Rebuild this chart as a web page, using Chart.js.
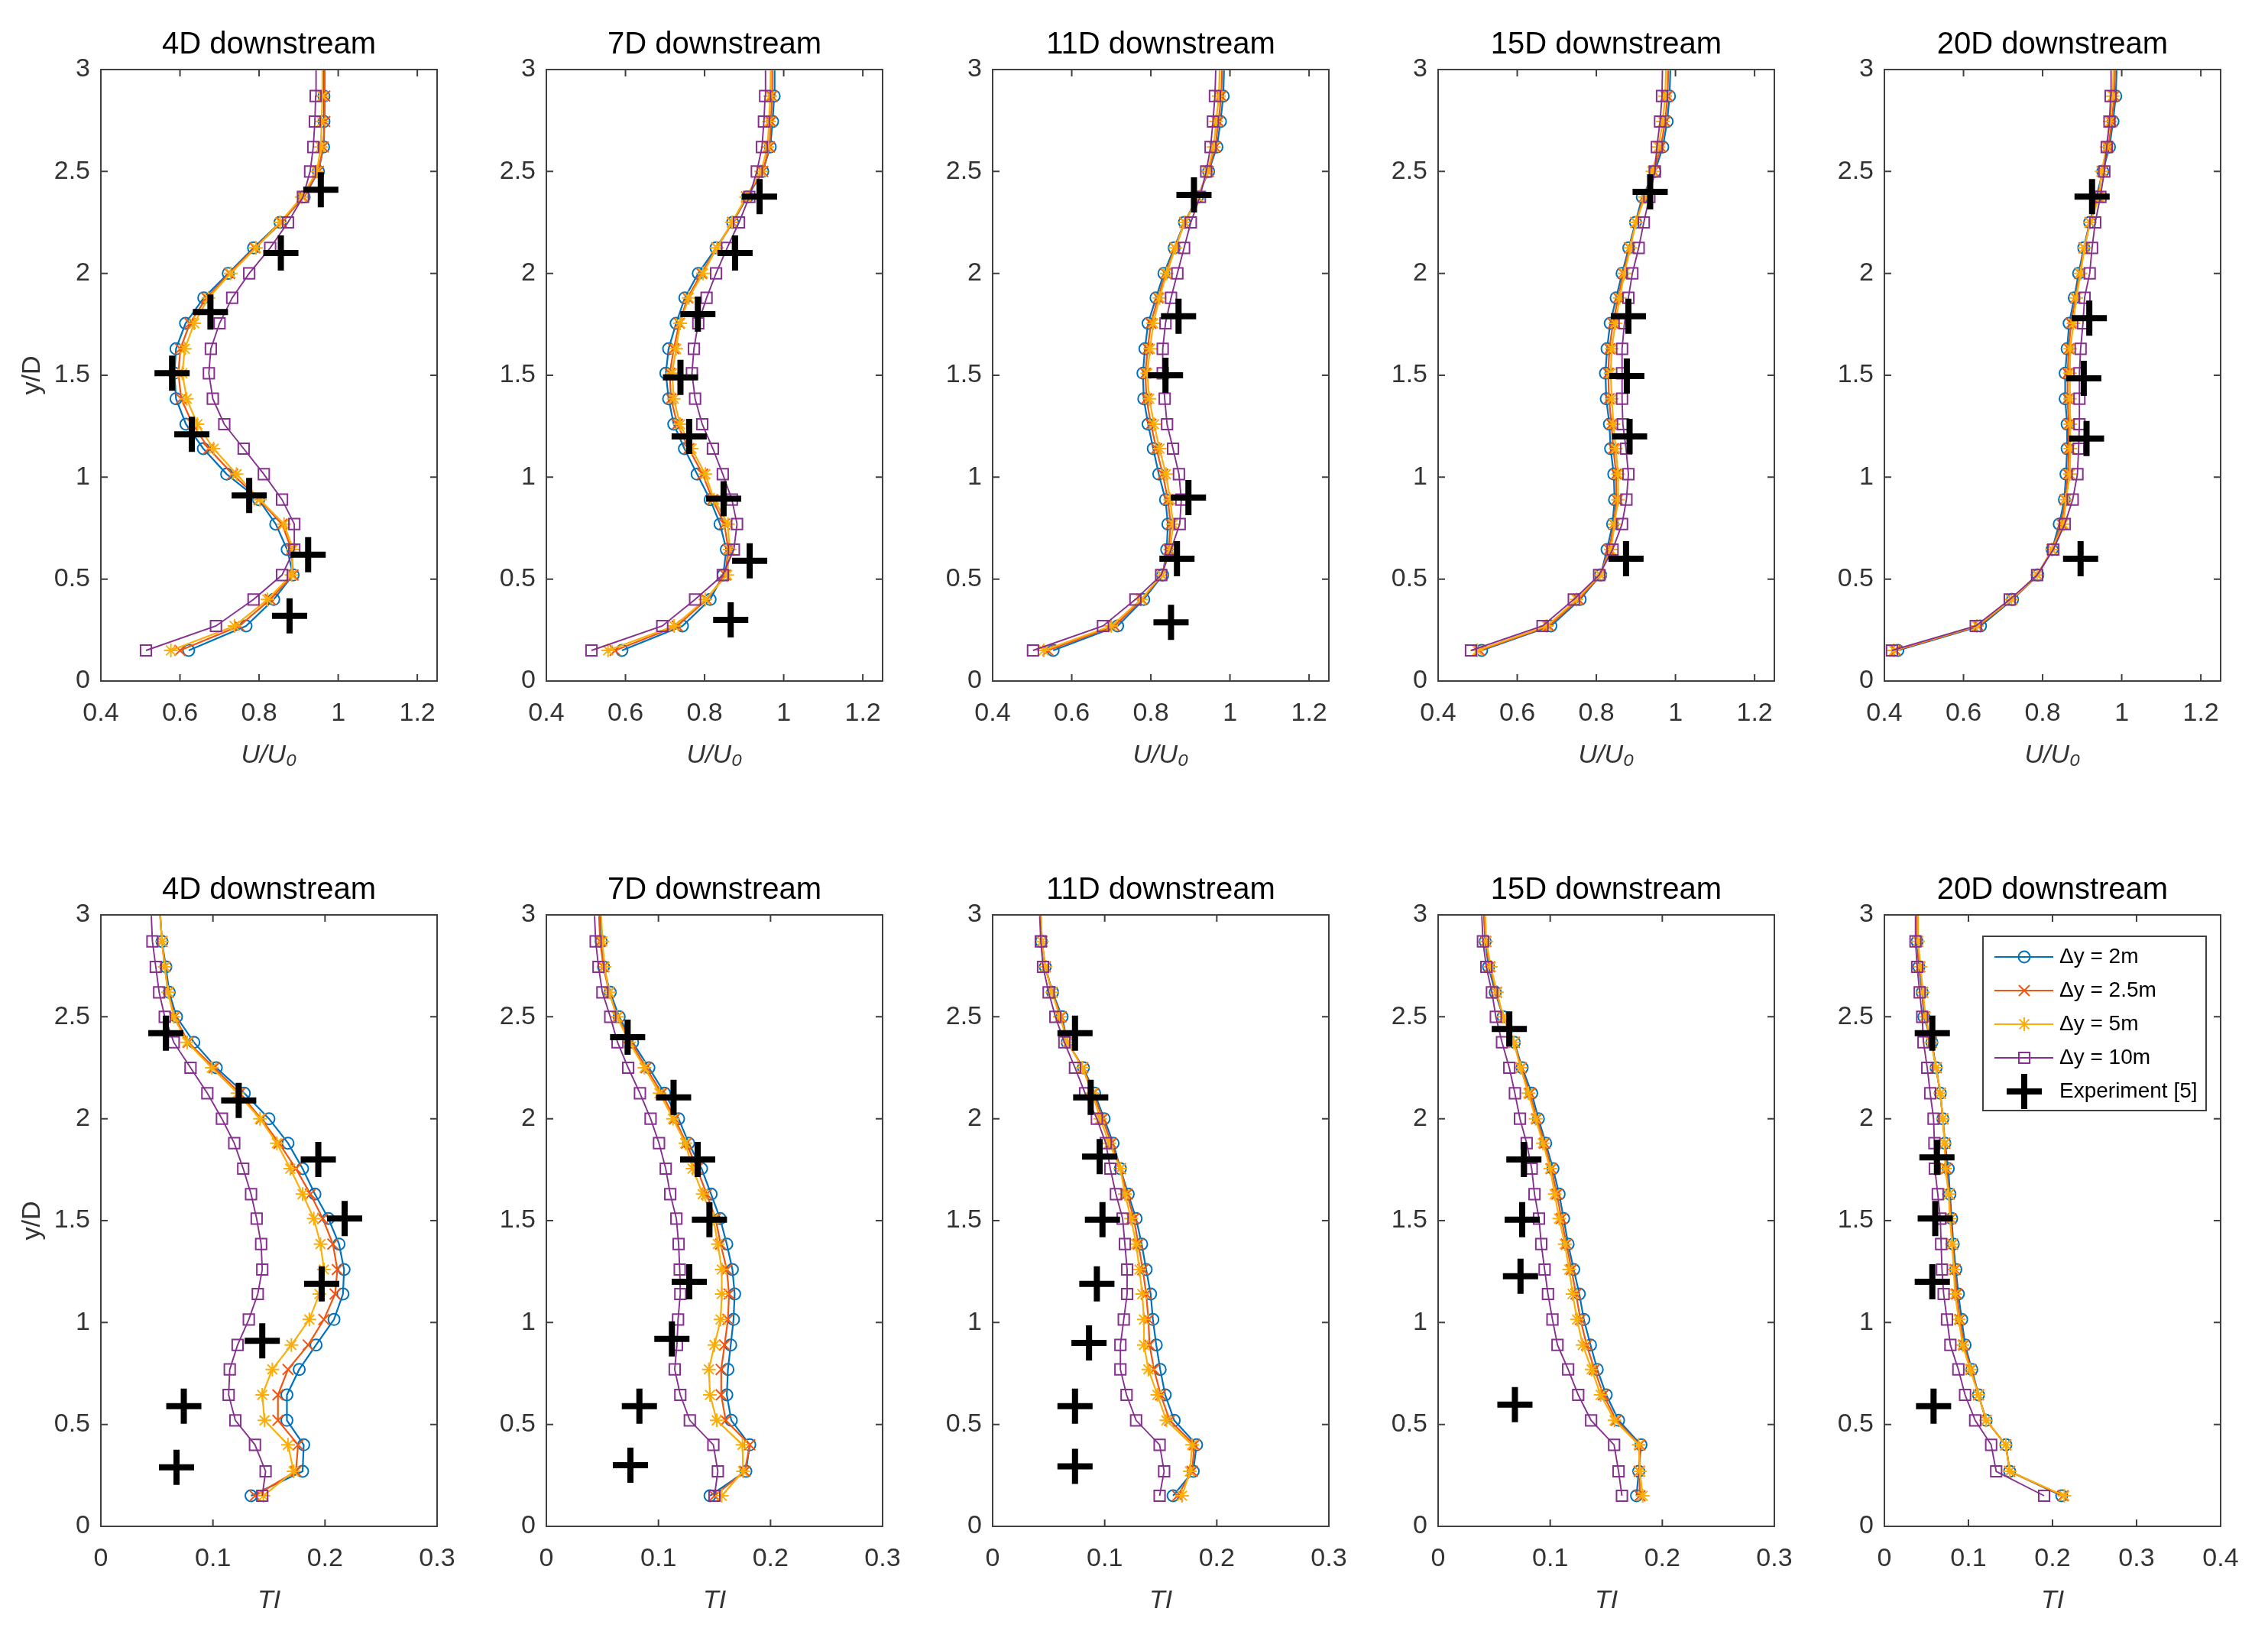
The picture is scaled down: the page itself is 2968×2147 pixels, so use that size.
<!DOCTYPE html>
<html><head><meta charset="utf-8">
<script src="https://cdn.jsdelivr.net/npm/chart.js@4.4.1/dist/chart.umd.min.js"></script>
<style>
html,body{margin:0;background:#fff;width:2968px;height:2147px;position:relative;overflow:hidden}
canvas{position:absolute}
</style></head><body>
<script>
// ---------- DATA ----------
const seriesNames = ['\u0394y = 2m','\u0394y = 2.5m','\u0394y = 5m','\u0394y = 10m','Experiment [5]'];
const panelTitles = ['4D downstream','7D downstream','11D downstream','15D downstream','20D downstream'];
const yTicks = [0,0.5,1,1.5,2,2.5,3];
const xTicksU = [0.4,0.6,0.8,1,1.2];
const xTicksTI = [0,0.1,0.2,0.3];
const xTicksTI20 = [0,0.1,0.2,0.3,0.4];
const yPos = [0.15,0.27,0.4,0.52,0.645,0.77,0.89,1.015,1.14,1.26,1.385,1.51,1.63,1.755,1.88,2.0,2.125,2.25,2.375,2.5,2.62,2.745,2.87,2.995];

// U/U0 profiles
const U4D_2m   = [0.622,0.767,0.837,0.886,0.871,0.842,0.799,0.718,0.659,0.615,0.590,0.586,0.590,0.614,0.660,0.722,0.786,0.853,0.914,0.950,0.963,0.964,0.964,0.964];
const U4D_25m  = [0.600,0.750,0.828,0.886,0.882,0.858,0.800,0.733,0.673,0.632,0.603,0.596,0.601,0.625,0.667,0.725,0.789,0.857,0.911,0.950,0.962,0.966,0.966,0.966];
const U4D_5m   = [0.577,0.738,0.821,0.882,0.886,0.863,0.802,0.743,0.685,0.644,0.617,0.606,0.612,0.636,0.672,0.728,0.792,0.853,0.908,0.946,0.956,0.958,0.960,0.960];
const U4D_10m  = [0.514,0.691,0.786,0.858,0.889,0.889,0.858,0.812,0.761,0.712,0.683,0.673,0.678,0.700,0.732,0.775,0.828,0.873,0.911,0.929,0.937,0.941,0.943,0.944];
const U4D_expX = [0.956,0.855,0.677,0.580,0.630,0.775,0.924,0.877];
const U4D_expY = [2.41,2.10,1.81,1.51,1.21,0.91,0.62,0.32];

const U7D_2m   = [0.591,0.744,0.814,0.847,0.855,0.839,0.814,0.781,0.749,0.722,0.709,0.702,0.709,0.728,0.750,0.784,0.829,0.871,0.908,0.947,0.966,0.972,0.976,0.977];
const U7D_25m  = [0.574,0.731,0.805,0.852,0.860,0.850,0.820,0.795,0.760,0.731,0.715,0.712,0.722,0.736,0.757,0.792,0.831,0.871,0.906,0.947,0.964,0.968,0.970,0.971];
const U7D_5m   = [0.556,0.723,0.802,0.857,0.863,0.859,0.824,0.802,0.767,0.738,0.722,0.718,0.728,0.738,0.760,0.796,0.831,0.869,0.905,0.943,0.959,0.963,0.966,0.967];
const U7D_10m  = [0.514,0.693,0.776,0.846,0.874,0.882,0.869,0.846,0.821,0.794,0.776,0.768,0.773,0.784,0.805,0.829,0.857,0.887,0.913,0.932,0.945,0.950,0.953,0.954];
const U7D_expX = [0.939,0.877,0.783,0.739,0.761,0.848,0.914,0.866];
const U7D_expY = [2.377,2.10,1.80,1.49,1.20,0.894,0.59,0.30];

const U11D_2m  = [0.553,0.716,0.782,0.830,0.840,0.843,0.837,0.820,0.806,0.793,0.782,0.780,0.785,0.793,0.813,0.833,0.859,0.885,0.918,0.946,0.967,0.976,0.983,0.985];
const U11D_25m = [0.540,0.708,0.778,0.828,0.845,0.850,0.843,0.830,0.814,0.800,0.789,0.786,0.792,0.800,0.818,0.837,0.861,0.886,0.919,0.945,0.963,0.971,0.978,0.980];
const U11D_5m  = [0.529,0.700,0.775,0.827,0.849,0.856,0.849,0.838,0.822,0.808,0.796,0.791,0.798,0.806,0.822,0.840,0.862,0.885,0.920,0.943,0.959,0.965,0.972,0.974];
const U11D_10m = [0.502,0.679,0.761,0.826,0.851,0.873,0.877,0.871,0.856,0.841,0.835,0.830,0.830,0.837,0.851,0.867,0.884,0.901,0.924,0.940,0.951,0.957,0.962,0.964];
const U11D_expX = [0.909,0.870,0.837,0.895,0.866,0.851];
const U11D_expY = [2.385,1.79,1.50,0.90,0.60,0.288];

const U15D_2m  = [0.510,0.685,0.759,0.811,0.827,0.841,0.846,0.844,0.836,0.833,0.825,0.823,0.827,0.835,0.850,0.865,0.882,0.899,0.916,0.948,0.968,0.979,0.985,0.987];
const U15D_25m = [0.505,0.680,0.755,0.810,0.832,0.844,0.851,0.850,0.843,0.838,0.832,0.830,0.833,0.842,0.855,0.868,0.884,0.900,0.920,0.945,0.963,0.974,0.980,0.982];
const U15D_5m  = [0.499,0.675,0.750,0.809,0.837,0.846,0.855,0.855,0.849,0.843,0.839,0.836,0.839,0.848,0.859,0.871,0.886,0.900,0.923,0.942,0.957,0.968,0.974,0.976];
const U15D_10m = [0.483,0.664,0.743,0.807,0.841,0.865,0.876,0.881,0.875,0.867,0.865,0.865,0.865,0.871,0.881,0.891,0.907,0.920,0.934,0.948,0.953,0.961,0.966,0.967];
const U15D_expX = [0.936,0.881,0.877,0.884,0.875];
const U15D_expY = [2.40,1.79,1.496,1.20,0.60];

const U20D_2m  = [0.434,0.643,0.724,0.788,0.824,0.842,0.855,0.859,0.862,0.862,0.857,0.857,0.862,0.867,0.880,0.891,0.904,0.919,0.936,0.952,0.969,0.978,0.985,0.987];
const U20D_25m = [0.429,0.638,0.722,0.787,0.824,0.848,0.857,0.864,0.866,0.866,0.863,0.863,0.866,0.872,0.883,0.894,0.905,0.920,0.940,0.951,0.966,0.975,0.981,0.983];
const U20D_5m  = [0.424,0.634,0.721,0.786,0.824,0.853,0.859,0.869,0.870,0.870,0.869,0.869,0.870,0.878,0.885,0.896,0.906,0.920,0.943,0.949,0.962,0.970,0.977,0.979];
const U20D_10m = [0.419,0.631,0.717,0.786,0.827,0.856,0.876,0.888,0.891,0.893,0.893,0.893,0.896,0.902,0.906,0.919,0.925,0.933,0.946,0.956,0.962,0.969,0.972,0.973];
const U20D_expX = [0.925,0.918,0.904,0.911,0.896];
const U20D_expY = [2.377,1.78,1.485,1.19,0.60];

// TI profiles
const TI4D_2m  = [0.134,0.180,0.181,0.166,0.166,0.177,0.192,0.208,0.216,0.217,0.2125,0.203,0.191,0.180,0.167,0.150,0.128,0.103,0.083,0.0675,0.061,0.058,0.0545,0.053];
const TI4D_25m = [0.1375,0.174,0.176,0.158,0.158,0.167,0.185,0.199,0.209,0.211,0.207,0.198,0.187,0.174,0.159,0.143,0.124,0.101,0.078,0.066,0.060,0.057,0.0545,0.053];
const TI4D_5m  = [0.145,0.172,0.167,0.146,0.144,0.153,0.170,0.186,0.195,0.199,0.196,0.190,0.180,0.169,0.157,0.142,0.122,0.099,0.077,0.065,0.060,0.057,0.0545,0.053];
const TI4D_10m = [0.144,0.147,0.1375,0.120,0.114,0.115,0.122,0.132,0.140,0.144,0.143,0.139,0.134,0.127,0.119,0.108,0.095,0.080,0.065,0.057,0.052,0.049,0.046,0.045];
const TI4D_expX = [0.058,0.123,0.194,0.2175,0.197,0.144,0.074,0.0675];
const TI4D_expY = [2.42,2.09,1.80,1.51,1.19,0.91,0.59,0.29];

const TI7D_2m  = [0.146,0.178,0.1815,0.165,0.161,0.162,0.1645,0.167,0.168,0.166,0.161,0.155,0.147,0.1385,0.127,0.118,0.1055,0.0915,0.077,0.065,0.057,0.051,0.049,0.048];
const TI7D_25m = [0.150,0.177,0.1815,0.160,0.156,0.156,0.159,0.162,0.163,0.161,0.1555,0.151,0.143,0.1345,0.125,0.1145,0.103,0.089,0.0755,0.0635,0.056,0.051,0.048,0.047];
const TI7D_5m  = [0.1565,0.1755,0.175,0.152,0.146,0.145,0.150,0.1555,0.1565,0.1565,0.153,0.149,0.1395,0.1305,0.124,0.113,0.101,0.0875,0.074,0.063,0.056,0.052,0.050,0.049];
const TI7D_10m = [0.150,0.153,0.149,0.128,0.1195,0.1145,0.1165,0.1175,0.1195,0.119,0.118,0.116,0.1105,0.1065,0.1005,0.093,0.0835,0.073,0.0635,0.057,0.050,0.0465,0.044,0.043];
const TI7D_expX = [0.0725,0.1135,0.135,0.1455,0.1275,0.112,0.083,0.075];
const TI7D_expY = [2.40,2.105,1.80,1.505,1.20,0.92,0.59,0.30];

const TI11D_2m  = [0.161,0.179,0.182,0.162,0.154,0.1495,0.146,0.143,0.141,0.137,0.133,0.128,0.121,0.114,0.1075,0.0995,0.091,0.081,0.0665,0.062,0.0535,0.047,0.0435,0.043];
const TI11D_25m = [0.165,0.178,0.180,0.158,0.150,0.144,0.140,0.139,0.137,0.134,0.130,0.126,0.120,0.114,0.106,0.098,0.090,0.0805,0.067,0.061,0.053,0.047,0.044,0.043];
const TI11D_5m  = [0.169,0.176,0.178,0.155,0.147,0.139,0.135,0.135,0.1335,0.131,0.128,0.1235,0.118,0.114,0.104,0.096,0.089,0.080,0.067,0.060,0.053,0.047,0.044,0.043];
const TI11D_10m = [0.149,0.153,0.149,0.128,0.1195,0.114,0.114,0.117,0.120,0.120,0.118,0.116,0.110,0.105,0.101,0.093,0.0825,0.0735,0.064,0.056,0.050,0.045,0.043,0.042];
const TI11D_expX = [0.0735,0.0875,0.0955,0.098,0.093,0.086,0.0735,0.0735];
const TI11D_expY = [2.42,2.105,1.814,1.505,1.19,0.90,0.59,0.294];

const TI15D_2m  = [0.177,0.179,0.181,0.161,0.150,0.142,0.136,0.130,0.126,0.121,0.116,0.112,0.108,0.1025,0.096,0.0895,0.0835,0.075,0.068,0.058,0.051,0.045,0.042,0.041];
const TI15D_25m = [0.180,0.1795,0.180,0.159,0.1475,0.1395,0.1325,0.127,0.123,0.119,0.1145,0.110,0.106,0.101,0.095,0.088,0.082,0.074,0.068,0.058,0.052,0.046,0.0425,0.041];
const TI15D_5m  = [0.1825,0.180,0.179,0.1575,0.145,0.137,0.129,0.124,0.120,0.117,0.113,0.108,0.104,0.100,0.0935,0.087,0.0805,0.0735,0.0675,0.058,0.0525,0.047,0.043,0.042];
const TI15D_10m = [0.164,0.161,0.157,0.1365,0.125,0.116,0.1065,0.102,0.098,0.095,0.092,0.090,0.086,0.0835,0.079,0.073,0.0685,0.0635,0.057,0.0515,0.048,0.043,0.040,0.039];
const TI15D_expX = [0.0635,0.0765,0.075,0.0735,0.0685];
const TI15D_expY = [2.44,1.80,1.505,1.227,0.597];

const TI20D_2m  = [0.211,0.149,0.1445,0.121,0.112,0.104,0.096,0.092,0.088,0.085,0.082,0.080,0.078,0.076,0.072,0.0695,0.0665,0.0615,0.0565,0.047,0.045,0.041,0.039,0.039];
const TI20D_25m = [0.2125,0.149,0.1445,0.121,0.112,0.103,0.0945,0.090,0.086,0.084,0.081,0.079,0.077,0.074,0.072,0.0695,0.0665,0.0615,0.056,0.048,0.0455,0.042,0.0395,0.039];
const TI20D_5m  = [0.214,0.149,0.1445,0.121,0.112,0.102,0.093,0.0885,0.084,0.0825,0.0805,0.078,0.0765,0.0725,0.0715,0.0695,0.0665,0.0615,0.0555,0.049,0.046,0.043,0.040,0.040];
const TI20D_10m = [0.190,0.133,0.127,0.108,0.096,0.088,0.0785,0.0745,0.0705,0.0685,0.0675,0.0665,0.0635,0.060,0.0595,0.0585,0.0545,0.051,0.0465,0.045,0.042,0.039,0.037,0.037];
const TI20D_expX = [0.057,0.0625,0.0605,0.057,0.0585];
const TI20D_expY = [2.42,1.81,1.51,1.20,0.59];

// ---------- PANELS ----------
const panels = [
  {t:0,row:0,col:0,s:[U4D_2m,U4D_25m,U4D_5m,U4D_10m],ex:U4D_expX,ey:U4D_expY,xt:xTicksU,xmin:0.4,xmax:1.25,xl:'U/U\u2080'},
  {t:1,row:0,col:1,s:[U7D_2m,U7D_25m,U7D_5m,U7D_10m],ex:U7D_expX,ey:U7D_expY,xt:xTicksU,xmin:0.4,xmax:1.25,xl:'U/U\u2080'},
  {t:2,row:0,col:2,s:[U11D_2m,U11D_25m,U11D_5m,U11D_10m],ex:U11D_expX,ey:U11D_expY,xt:xTicksU,xmin:0.4,xmax:1.25,xl:'U/U\u2080'},
  {t:3,row:0,col:3,s:[U15D_2m,U15D_25m,U15D_5m,U15D_10m],ex:U15D_expX,ey:U15D_expY,xt:xTicksU,xmin:0.4,xmax:1.25,xl:'U/U\u2080'},
  {t:4,row:0,col:4,s:[U20D_2m,U20D_25m,U20D_5m,U20D_10m],ex:U20D_expX,ey:U20D_expY,xt:xTicksU,xmin:0.4,xmax:1.25,xl:'U/U\u2080'},
  {t:0,row:1,col:0,s:[TI4D_2m,TI4D_25m,TI4D_5m,TI4D_10m],ex:TI4D_expX,ey:TI4D_expY,xt:xTicksTI,xmin:0,xmax:0.3,xl:'TI'},
  {t:1,row:1,col:1,s:[TI7D_2m,TI7D_25m,TI7D_5m,TI7D_10m],ex:TI7D_expX,ey:TI7D_expY,xt:xTicksTI,xmin:0,xmax:0.3,xl:'TI'},
  {t:2,row:1,col:2,s:[TI11D_2m,TI11D_25m,TI11D_5m,TI11D_10m],ex:TI11D_expX,ey:TI11D_expY,xt:xTicksTI,xmin:0,xmax:0.3,xl:'TI'},
  {t:3,row:1,col:3,s:[TI15D_2m,TI15D_25m,TI15D_5m,TI15D_10m],ex:TI15D_expX,ey:TI15D_expY,xt:xTicksTI,xmin:0,xmax:0.3,xl:'TI'},
  {t:4,row:1,col:4,s:[TI20D_2m,TI20D_25m,TI20D_5m,TI20D_10m],ex:TI20D_expX,ey:TI20D_expY,xt:xTicksTI20,xmin:0,xmax:0.4,xl:'TI',legend:true}
];

// ---------- STYLE / LAYOUT ----------
const FONT = "'Liberation Sans', 'DejaVu Sans', Arial, sans-serif";
Chart.defaults.font.family = FONT;
const colors = ['#0072BD','#F2550F','#FBAE0A','#86308F','#000000'];
const mStyle = ['circle','crossRot','star','rect','cross'];
const mRad = [7.5,10,9,10,23];
const mBW = [2,2,2,2,8];
const lineW = [2.2,2.2,2.2,1.9,0];
const colLeft = [132,715,1299,1882,2466];
const rowTop = [91,1197];
const AXW = 120, PW = 451, RP = 20, CW = AXW + PW + RP, CH = 1021;
const axisGray = '#333333';

const axesBox = {
  id:'axesBox',
  afterDatasetsDraw(chart){
    const {ctx, chartArea:a, scales:{x,y}} = chart;
    ctx.save();
    ctx.strokeStyle = '#404040'; ctx.lineWidth = 2;
    const tl = 9;
    ctx.beginPath();
    x.ticks.forEach(t=>{const p=x.getPixelForValue(t.value);
      ctx.moveTo(p,a.bottom); ctx.lineTo(p,a.bottom-tl); ctx.moveTo(p,a.top); ctx.lineTo(p,a.top+tl);});
    y.ticks.forEach(t=>{const p=y.getPixelForValue(t.value);
      ctx.moveTo(a.left,p); ctx.lineTo(a.left+tl,p); ctx.moveTo(a.right,p); ctx.lineTo(a.right-tl,p);});
    ctx.stroke();
    ctx.strokeRect(a.left, a.top, a.right-a.left, a.bottom-a.top);
    ctx.restore();
  }
};

const legendBox = {
  id:'legendBox',
  afterDraw(chart){
    const {ctx, chartArea:a} = chart;
    const bx = a.left+129, by = a.top+28, bw = 292, bh = 228;
    ctx.save();
    ctx.fillStyle = '#fff'; ctx.fillRect(bx,by,bw,bh);
    ctx.strokeStyle = '#404040'; ctx.lineWidth = 2; ctx.strokeRect(bx,by,bw,bh);
    chart.data.datasets.forEach((ds,i)=>{
      const cy = by + 27 + i*44;
      if (ds.showLine) {
        ctx.strokeStyle = ds.borderColor; ctx.lineWidth = ds.borderWidth;
        ctx.beginPath(); ctx.moveTo(bx+15,cy); ctx.lineTo(bx+92,cy); ctx.stroke();
      }
      ctx.strokeStyle = ds.pointBorderColor; ctx.fillStyle = 'rgba(0,0,0,0)';
      ctx.lineWidth = mBW[i];
      Chart.helpers.drawPoint(ctx,{pointStyle:mStyle[i],radius:mRad[i],borderWidth:mBW[i],rotation:0},bx+54,cy);
      ctx.fillStyle = '#000'; ctx.font = '28px ' + FONT; ctx.textBaseline = 'middle'; ctx.textAlign = 'left';
      ctx.fillText(ds.label, bx+100, cy);
    });
    ctx.restore();
  }
};

panels.forEach((p,k)=>{
  const cv = document.createElement('canvas');
  cv.width = CW; cv.height = CH;
  cv.style.left = (colLeft[p.col]-AXW)+'px';
  cv.style.top = (rowTop[p.row]-91)+'px';
  cv.style.width = CW+'px'; cv.style.height = CH+'px';
  document.body.appendChild(cv);

  const datasets = p.s.map((vals,i)=>({
    label: seriesNames[i],
    data: yPos.map((yv,j)=>({x:vals[j], y:yv})),
    showLine:true, borderColor:colors[i], borderWidth:lineW[i], tension:0,
    pointStyle:mStyle[i],
    pointRadius: c => (c.raw && c.raw.y > 2.95) ? 0 : mRad[i],
    pointBorderColor:colors[i], pointBackgroundColor:'rgba(0,0,0,0)', pointBorderWidth:mBW[i],
    order: 4-i
  }));
  datasets.push({
    label: seriesNames[4],
    data: p.ex.map((xv,j)=>({x:xv, y:p.ey[j]})),
    showLine:false, borderColor:'#000', pointStyle:'cross', pointRadius:mRad[4],
    pointBorderColor:'#000', pointBorderWidth:mBW[4], order:0
  });

  new Chart(cv, {
    type:'scatter',
    data:{datasets},
    options:{
      responsive:false, animation:false, events:[], devicePixelRatio:1,
      layout:{padding:{left:0,right:RP,top:0,bottom:5}},
      plugins:{
        legend:{display:false}, tooltip:{enabled:false},
        title:{display:true,fullSize:false,align:'center',text:panelTitles[p.t],color:'#000',font:{size:40,weight:'normal'},padding:{top:35,bottom:8}}
      },
      scales:{
        x:{type:'linear',min:p.xmin,max:p.xmax,
          afterBuildTicks:s=>{s.ticks=p.xt.map(v=>({value:v}));},
          afterFit:s=>{s.height=125; s.paddingLeft=0; s.paddingRight=0;},
          ticks:{font:{size:34},color:axisGray,padding:22,maxRotation:0,autoSkip:false,callback:v=>String(v)},
          grid:{display:false,drawTicks:false}, border:{display:false},
          title:{display:true,text:p.xl,color:axisGray,font:{size:34,style:'italic'},padding:{top:0,bottom:6.6}}
        },
        y:{type:'linear',min:0,max:3,
          afterBuildTicks:s=>{s.ticks=yTicks.map(v=>({value:v}));},
          afterFit:s=>{s.width=AXW; s.paddingTop=0; s.paddingBottom=0;},
          ticks:{font:{size:34},color:axisGray,padding:14,autoSkip:false,callback:v=>String(v)},
          grid:{display:false,drawTicks:false}, border:{display:false},
          title:{display:p.col===0,text:'y/D',color:axisGray,font:{size:34},padding:{top:10,bottom:0}}
        }
      }
    },
    plugins: p.legend ? [axesBox, legendBox] : [axesBox]
  });
});
</script>
</body></html>
